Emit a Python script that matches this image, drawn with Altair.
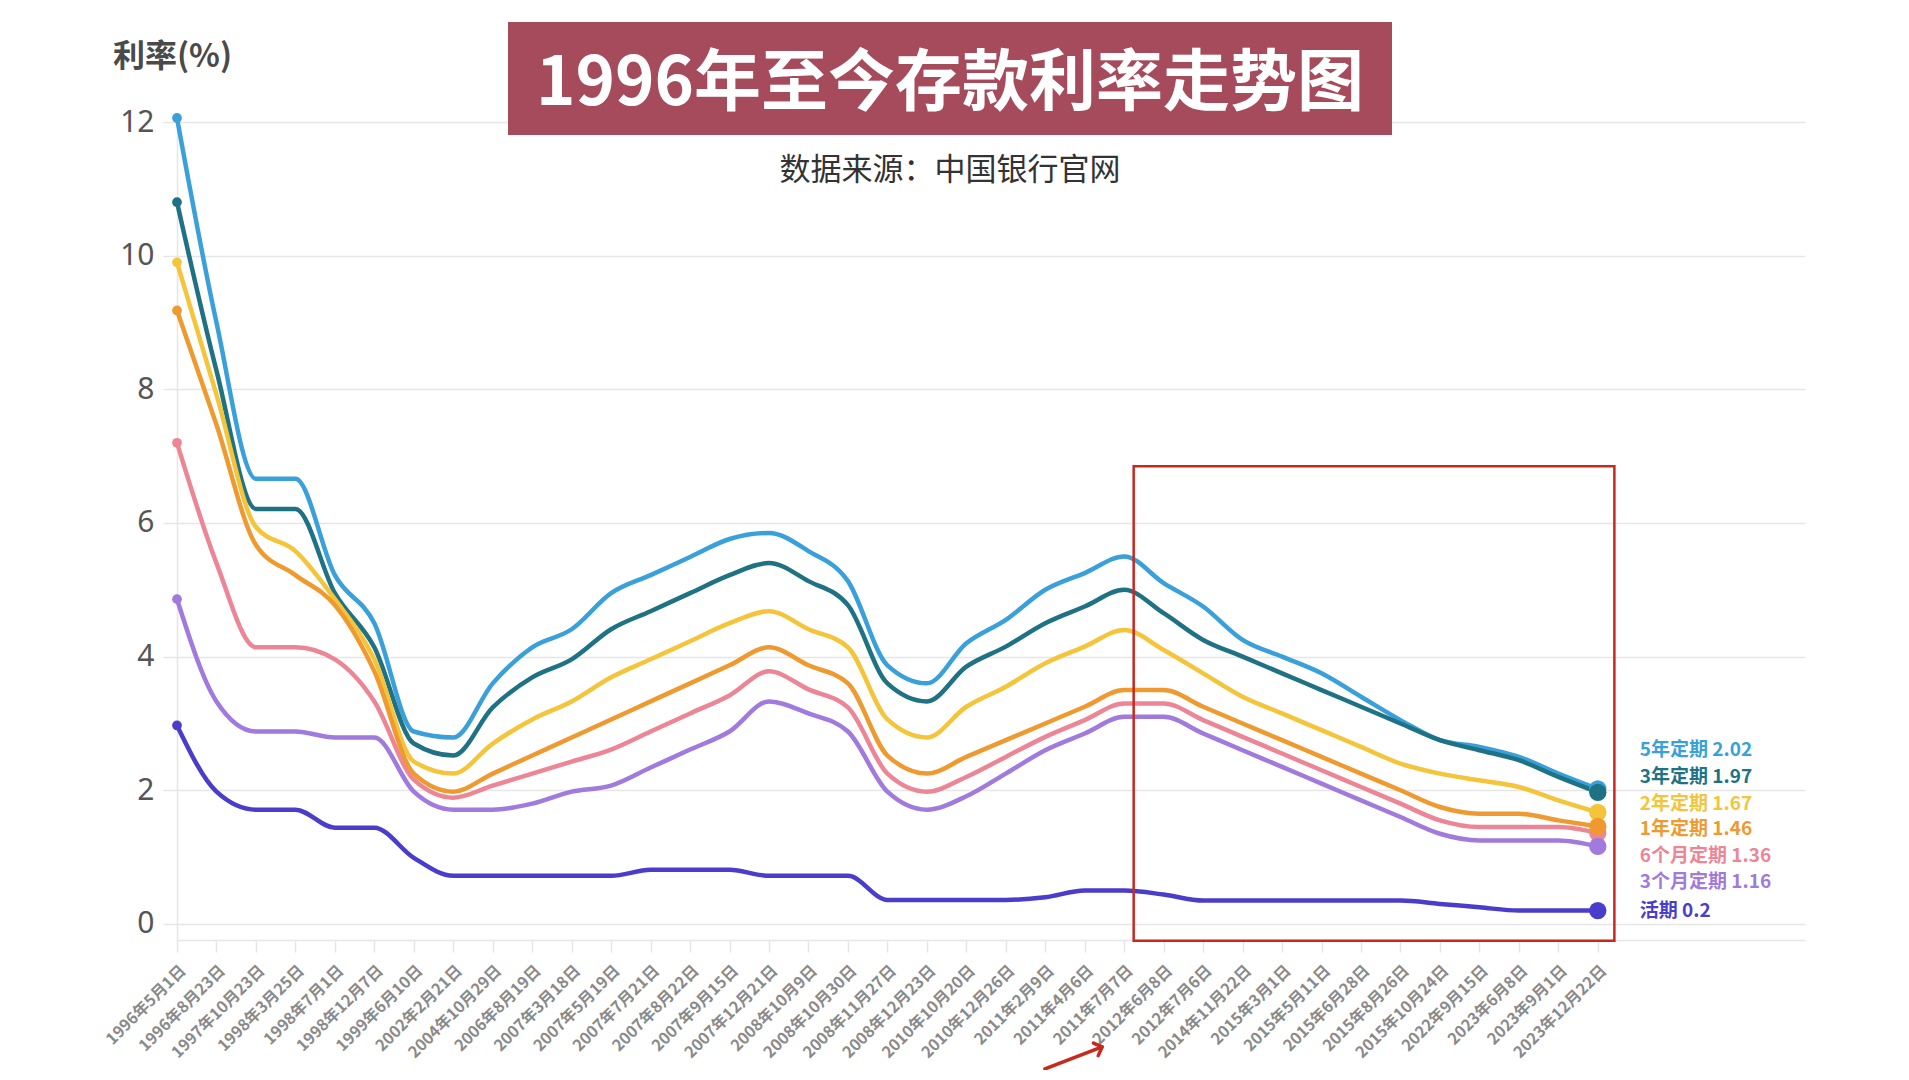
import altair as alt
import pandas as pd

# ---------------- data ----------------
dates = [
    "1996年5月1日", "1996年8月23日", "1997年10月23日", "1998年3月25日", "1998年7月1日",
    "1998年12月7日", "1999年6月10日", "2002年2月21日", "2004年10月29日", "2006年8月19日",
    "2007年3月18日", "2007年5月19日", "2007年7月21日", "2007年8月22日", "2007年9月15日",
    "2007年12月21日", "2008年10月9日", "2008年10月30日", "2008年11月27日", "2008年12月23日",
    "2010年10月20日", "2010年12月26日", "2011年2月9日", "2011年4月6日", "2011年7月7日",
    "2012年6月8日", "2012年7月6日", "2014年11月22日", "2015年3月1日", "2015年5月11日",
    "2015年6月28日", "2015年8月26日", "2015年10月24日", "2022年9月15日", "2023年6月8日",
    "2023年9月1日", "2023年12月22日",
]

rate_5y = [12.06, 9.00, 6.66, 6.66, 5.22, 4.50, 2.88, 2.79, 3.60, 4.14,
           4.41, 4.95, 5.22, 5.49, 5.76, 5.85, 5.58, 5.13, 3.87, 3.60,
           4.20, 4.55, 5.00, 5.25, 5.50, 5.10, 4.75, 4.25, 4.00, 3.75,
           3.40, 3.05, 2.75, 2.65, 2.50, 2.25, 2.02]
rate_3y = [10.80, 8.28, 6.21, 6.21, 4.95, 4.14, 2.70, 2.52, 3.24, 3.69,
           3.96, 4.41, 4.68, 4.95, 5.22, 5.40, 5.13, 4.77, 3.60, 3.33,
           3.85, 4.15, 4.50, 4.75, 5.00, 4.65, 4.25, 4.00, 3.75, 3.50,
           3.25, 3.00, 2.75, 2.60, 2.45, 2.20, 1.97]
rate_2y = [9.90, 7.92, 5.94, 5.58, 4.86, 3.96, 2.43, 2.25, 2.70, 3.06,
           3.33, 3.69, 3.96, 4.23, 4.50, 4.68, 4.41, 4.14, 3.06, 2.79,
           3.25, 3.55, 3.90, 4.15, 4.40, 4.10, 3.75, 3.40, 3.15, 2.90,
           2.65, 2.40, 2.25, 2.15, 2.05, 1.85, 1.67]
rate_1y = [9.18, 7.47, 5.67, 5.22, 4.77, 3.78, 2.25, 1.98, 2.25, 2.52,
           2.79, 3.06, 3.33, 3.60, 3.87, 4.14, 3.87, 3.60, 2.52, 2.25,
           2.50, 2.75, 3.00, 3.25, 3.50, 3.50, 3.25, 3.00, 2.75, 2.50,
           2.25, 2.00, 1.75, 1.65, 1.65, 1.55, 1.46]
rate_6m = [7.20, 5.40, 4.14, 4.14, 3.96, 3.33, 2.16, 1.89, 2.07, 2.25,
           2.43, 2.61, 2.88, 3.15, 3.42, 3.78, 3.51, 3.24, 2.25, 1.98,
           2.20, 2.50, 2.80, 3.05, 3.30, 3.30, 3.05, 2.80, 2.55, 2.30,
           2.05, 1.80, 1.55, 1.45, 1.45, 1.45, 1.36]
rate_3m = [4.86, 3.33, 2.88, 2.88, 2.79, 2.79, 1.98, 1.71, 1.71, 1.80,
           1.98, 2.07, 2.34, 2.61, 2.88, 3.33, 3.15, 2.88, 1.98, 1.71,
           1.91, 2.25, 2.60, 2.85, 3.10, 3.10, 2.85, 2.60, 2.35, 2.10,
           1.85, 1.60, 1.35, 1.25, 1.25, 1.25, 1.16]
rate_cur = [2.97, 1.98, 1.71, 1.71, 1.44, 1.44, 0.99, 0.72, 0.72, 0.72,
            0.72, 0.72, 0.81, 0.81, 0.81, 0.72, 0.72, 0.72, 0.36, 0.36,
            0.36, 0.36, 0.40, 0.50, 0.50, 0.44, 0.35, 0.35, 0.35, 0.35,
            0.35, 0.35, 0.30, 0.25, 0.20, 0.20, 0.20]

series_names = ["5年定期", "3年定期", "2年定期", "1年定期", "6个月定期", "3个月定期", "活期"]
series_colors = ["#3AA0DA", "#1E7284", "#F4C43A", "#EE9A30", "#EC8696", "#A07ADC", "#4B3DCB"]
series_values = [rate_5y, rate_3y, rate_2y, rate_1y, rate_6m, rate_3m, rate_cur]
end_labels = ["5年定期 2.02", "3年定期 1.97", "2年定期 1.67", "1年定期 1.46",
              "6个月定期 1.36", "3个月定期 1.16", "活期 0.2"]
# drawing order (later = on top)
draw_order = ["5年定期", "3年定期", "2年定期", "6个月定期", "1年定期", "3个月定期", "活期"]
# vertical pixel nudges of the end labels (label collision avoidance)
label_dy = [-39, -15, -8.5, 3, 23, 36, 0]

title_text = "1996年至今存款利率走势图"
subtitle_text = "数据来源：中国银行官网"
ytitle_text = "利率(%)"

# annotation (red box around 2011–2023 and arrow) in data units
box_x = [24.24, 36.42]
box_y = [6.85, -0.25]
arrow_x = [21.99, 23.44]
arrow_y = [-2.17, -1.84]

# ---------------- build tables ----------------
rows = []
for name in draw_order:
    k = series_names.index(name)
    for i, v in enumerate(series_values[k]):
        rows.append({"series": name, "idx": i, "rate": v, "date": dates[i]})
df = pd.DataFrame(rows)

FONT = "Noto Sans CJK SC"
GRID = "#E6E6E6"

label_expr = "[" + ",".join("'" + d + "'" for d in dates) + "][datum.value]"

x_scale = alt.Scale(domain=[0, 41.25], nice=False, zero=False)
y_scale = alt.Scale(domain=[-0.24, 12], nice=False, zero=False)

x_axis = alt.Axis(values=list(range(len(dates))), labelExpr=label_expr, labelAngle=-45,
                  grid=False, domainColor=GRID, domainWidth=1.5, tickColor=GRID,
                  tickSize=12, tickWidth=1.5, labelFontSize=16, labelColor="#8a8a8a",
                  labelFont=FONT, labelFontWeight="bold", labelPadding=10, title=None,
                  labelOverlap=False, labelBound=False, labelFlush=False)
y_axis = alt.Axis(values=[0, 2, 4, 6, 8, 10, 12], grid=True, gridColor=GRID, gridWidth=1.5,
                  domainColor=GRID, domainWidth=1.5, tickColor=GRID, tickSize=14,
                  tickWidth=1.5, labelFontSize=30, labelColor="#555555", labelFont="Noto Sans",
                  labelPadding=9, title=None)

color = alt.Color("series:N", scale=alt.Scale(domain=series_names, range=series_colors),
                  legend=None)

base = alt.Chart(df).encode(
    x=alt.X("idx:Q", scale=x_scale, axis=x_axis),
    y=alt.Y("rate:Q", scale=y_scale, axis=y_axis),
    color=color,
)

lines = base.mark_line(interpolate="monotone", strokeWidth=4.5, strokeCap="round",
                       strokeJoin="round")
start_dots = base.transform_filter("datum.idx == 0").mark_circle(size=95, opacity=1)
end_dots = base.transform_filter("datum.idx == %d" % (len(dates) - 1)).mark_circle(
    size=300, opacity=1)

label_layers = []
for k, name in enumerate(series_names):
    ldf = pd.DataFrame({"series": [name], "idx": [len(dates) - 1],
                        "rate": [series_values[k][-1]], "label": [end_labels[k]]})
    label_layers.append(
        alt.Chart(ldf).mark_text(align="left", baseline="middle", dx=42, dy=label_dy[k],
                                 fontSize=19, fontWeight="bold", font=FONT).encode(
            x=alt.X("idx:Q", scale=x_scale, axis=x_axis),
            y=alt.Y("rate:Q", scale=y_scale, axis=y_axis),
            text="label:N",
            color=color,
        )
    )

# red annotation box
box_df = pd.DataFrame({"idx": [box_x[0]], "idx2": [box_x[1]],
                       "rate": [box_y[0]], "rate2": [box_y[1]]})
red_box = alt.Chart(box_df).mark_rect(fill="transparent", stroke="#C8291F",
                                      strokeWidth=2.5).encode(
    x=alt.X("idx:Q", scale=x_scale, axis=x_axis), x2="idx2:Q",
    y=alt.Y("rate:Q", scale=y_scale, axis=y_axis), y2="rate2:Q",
)

arrow_df = pd.DataFrame({"idx": [arrow_x[0]], "idx2": [arrow_x[1]],
                         "rate": [arrow_y[0]], "rate2": [arrow_y[1]]})
arrow_line = alt.Chart(arrow_df).mark_rule(color="#C8291F", strokeWidth=3.5,
                                           strokeCap="round").encode(
    x=alt.X("idx:Q", scale=x_scale, axis=x_axis), x2="idx2:Q",
    y=alt.Y("rate:Q", scale=y_scale, axis=y_axis), y2="rate2:Q",
)
head_df = pd.DataFrame({"idx": [arrow_x[1]], "rate": [arrow_y[1]]})
arrow_head = alt.Chart(head_df).mark_point(shape="M -1 1 L 0 0 L 1 1", filled=False,
                                           color="#C8291F", strokeWidth=3.5, size=180,
                                           angle=69, opacity=1,
                                           strokeCap="round", strokeJoin="round").encode(
    x=alt.X("idx:Q", scale=x_scale, axis=x_axis),
    y=alt.Y("rate:Q", scale=y_scale, axis=y_axis),
)

# title block
tdf = pd.DataFrame({"t": [title_text], "s": [subtitle_text], "y": [ytitle_text]})
title_box = alt.Chart(tdf).mark_rect(color="#A54B5B").encode(
    x=alt.value(331), x2=alt.value(1215), y=alt.value(-100), y2=alt.value(13))
title = alt.Chart(tdf).mark_text(fontSize=67, fontWeight="bold", color="white", font=FONT,
                                 align="center", baseline="middle").encode(
    x=alt.value(773), y=alt.value(-37), text="t:N")
subtitle = alt.Chart(tdf).mark_text(fontSize=31, color="#333333", font=FONT,
                                    align="center", baseline="middle").encode(
    x=alt.value(773), y=alt.value(49), text="s:N")
ytitle = alt.Chart(tdf).mark_text(fontSize=32, fontWeight="bold", color="#4a4a4a", font=FONT,
                                  align="left", baseline="middle").encode(
    x=alt.value(-64), y=alt.value(-65), text="y:N")

chart = alt.layer(
    lines, start_dots, end_dots, *label_layers, red_box, arrow_line, arrow_head,
    title_box, title, subtitle, ytitle,
).properties(
    width=1628, height=818,
    padding={"left": 169, "top": 114, "right": 60, "bottom": 130},
    autosize=alt.AutoSizeParams(type="none"),
    background="white",
).configure_view(stroke=None)

chart.save("out.html", embed_options={"renderer": "svg", "actions": False})
